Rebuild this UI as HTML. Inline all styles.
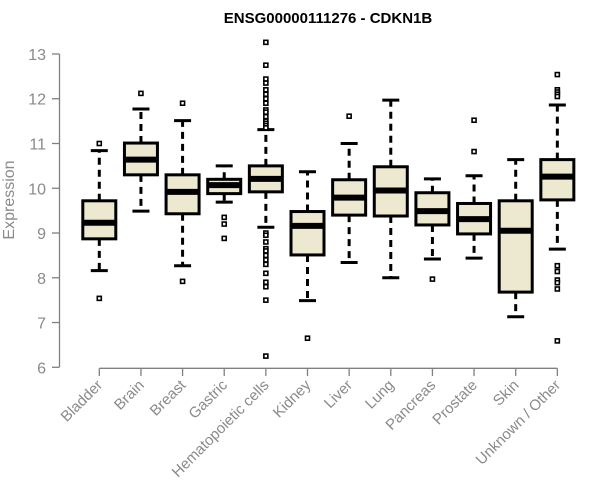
<!DOCTYPE html>
<html><head><meta charset="utf-8"><style>
body{margin:0;background:#fff;}
svg{display:block;font-family:"Liberation Sans",Arial,sans-serif;}
</style></head><body>
<svg id="chart" width="600" height="500">
<text x="328" y="23" text-anchor="middle" font-weight="bold" font-size="15" fill="#000">ENSG00000111276 - CDKN1B</text>
<text transform="translate(14,200) rotate(-90)" text-anchor="middle" font-size="16" fill="#8a8a8a">Expression</text>
<g id="axes"></g><g id="boxes"></g>
</svg>
<script>
const categories=["Bladder","Brain","Breast","Gastric","Hematopoietic cells","Kidney","Liver","Lung","Pancreas","Prostate","Skin","Unknown / Other"];
const whiskerLow=[8.16,9.49,8.27,9.69,9.13,7.49,8.34,8.0,8.42,8.44,7.13,8.64];
const q1=[8.87,10.30,9.43,9.88,9.92,8.51,9.40,9.38,9.18,8.98,7.68,9.74];
const median=[9.23,10.64,9.92,10.07,10.21,9.16,9.79,9.95,9.49,9.31,9.05,10.26];
const q3=[9.72,11.01,10.30,10.20,10.50,9.48,10.19,10.48,9.90,9.66,9.72,10.64];
const whiskerHigh=[10.84,11.77,11.51,10.50,11.31,10.37,11.0,11.97,10.21,10.28,10.64,11.86];
const outliers=[[11.0,7.54],[12.12],[11.90,7.92],[9.35,9.20,8.88],
[13.26,12.75,12.44,12.35,12.2,12.1,12.0,11.9,11.75,11.7,11.6,11.5,11.45,11.4,11.35,9.0,8.95,8.8,8.65,8.6,8.5,8.4,8.3,8.1,7.9,7.8,7.5,6.25],
[6.65],[11.61],[],[7.97],[11.52,10.82],[],[12.54,12.2,12.15,12.1,12.05,8.27,8.14,7.95,7.89,7.75,6.59]];
const yTicks=[6,7,8,9,10,11,12,13];
const NS="http://www.w3.org/2000/svg";
const y=v=>367.3-(v-6)*44.76;
const x=i=>99.3+i*41.64;
function mk(tag,attrs,parent){const e=document.createElementNS(NS,tag);for(const k in attrs)e.setAttribute(k,attrs[k]);parent.appendChild(e);return e;}
const axes=document.getElementById('axes'),boxes=document.getElementById('boxes');
const ya=mk('line',{x1:59.5,x2:59.5,y1:y(13),y2:y(6),stroke:'#808080','stroke-width':1.3},axes);


yTicks.forEach(t=>{
 mk('line',{x1:52,x2:59.5,y1:y(t),y2:y(t),stroke:'#808080','stroke-width':1.3},axes);
 const tx=mk('text',{x:46,y:y(t)+6,'text-anchor':'end','font-size':16,fill:'#8a8a8a'},axes);
 tx.textContent=t;
 
 
});
const xa=mk('line',{x1:x(0),x2:x(11),y1:368.3,y2:368.3,stroke:'#808080','stroke-width':1.3},axes);


categories.forEach((c,i)=>{
 const cx=x(i);
 mk('line',{x1:cx,x2:cx,y1:368.3,y2:376,stroke:'#808080','stroke-width':1.3},axes);
 const tx=mk('text',{transform:`translate(${cx+4},${386}) rotate(-45)`,'text-anchor':'end','font-size':15,fill:'#8a8a8a'},axes);
 tx.textContent=c;
 
 
 const g=mk('g',{},boxes);
 
 
 mk('line',{x1:cx,x2:cx,y1:y(q3[i]),y2:y(whiskerHigh[i]),stroke:'#000','stroke-width':3,'stroke-dasharray':'7,5'},g);
 mk('line',{x1:cx,x2:cx,y1:y(q1[i]),y2:y(whiskerLow[i]),stroke:'#000','stroke-width':3,'stroke-dasharray':'7,5'},g);
 mk('line',{x1:cx-8.5,x2:cx+8.5,y1:y(whiskerHigh[i]),y2:y(whiskerHigh[i]),stroke:'#000','stroke-width':3},g);
 mk('line',{x1:cx-8.5,x2:cx+8.5,y1:y(whiskerLow[i]),y2:y(whiskerLow[i]),stroke:'#000','stroke-width':3},g);
 mk('rect',{x:cx-16.5,y:y(q3[i]),width:33,height:y(q1[i])-y(q3[i]),fill:'#ede8d0',stroke:'#000','stroke-width':3},g);
 mk('line',{x1:cx-16.5,x2:cx+16.5,y1:y(median[i]),y2:y(median[i]),stroke:'#000','stroke-width':6},g);
 outliers[i].forEach(o=>{
  const p=mk('rect',{x:cx-2,y:y(o)-2,width:4,height:4,fill:'#fff',stroke:'#000','stroke-width':1.6},g);
  
  
 });
});
</script>
</body></html>
